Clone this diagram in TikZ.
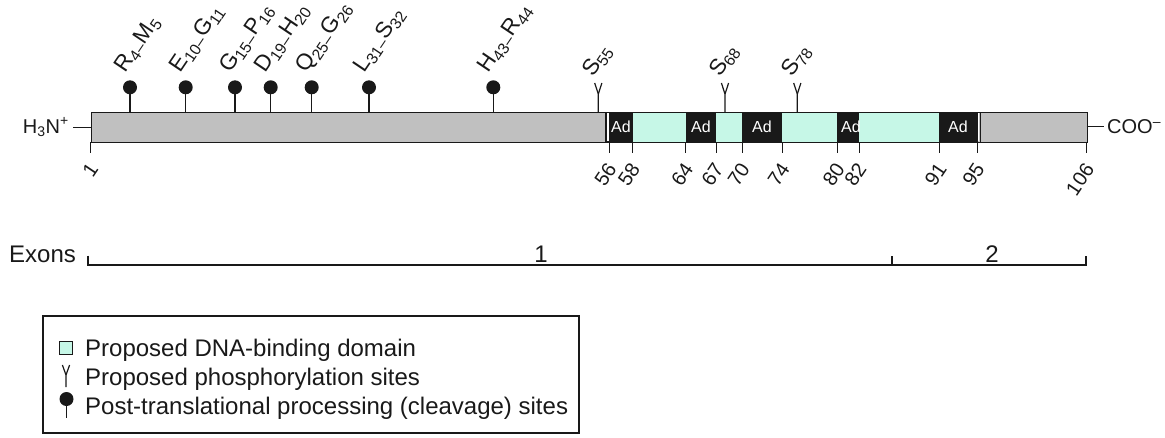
\documentclass[tikz,border=0pt]{standalone}
\usepackage{fontspec}
\setmainfont{Liberation Sans}
\definecolor{bargray}{RGB}{192,192,192}
\definecolor{mint}{RGB}{198,247,231}
\definecolor{ink}{RGB}{25,25,25}
\tikzset{
  barline/.style={draw=ink, line width=1.3pt},
  stem/.style={draw=ink, line width=1.2pt},
  pinhead/.style={circle, fill=ink, inner sep=0pt, minimum size=14pt},
  sitelab/.style={rotate=56, anchor=base west, inner sep=0pt, text=ink, font=\fontsize{22.5}{22.5}\selectfont},
  numlab/.style={rotate=56, anchor=east, inner sep=0.5pt, text=ink, font=\fontsize{20}{20}\selectfont},
  adlab/.style={text=white, inner sep=0pt, font=\fontsize{16}{16}\selectfont},
  tick/.style={draw=ink, line width=1pt},
  bigtext/.style={text=ink, inner sep=0pt, font=\fontsize{24}{24}\selectfont},
  endtext/.style={text=ink, inner sep=0pt, font=\fontsize{20}{20}\selectfont},
}
\newcommand{\dsh}{\textsubscript{–}}
\begin{document}
\begin{tikzpicture}[x=1pt,y=-1pt]
\useasboundingbox (0,0) rectangle (1165,437);
% ---------- bar segments
\fill[bargray] (90.7,112) rectangle (606,142);
\fill[ink] (606,112) rectangle (632.5,142);
\fill[mint] (632.5,112) rectangle (685.7,142);
\fill[ink] (685.7,112) rectangle (716,142);
\fill[mint] (716,112) rectangle (742.3,142);
\fill[ink] (742.3,112) rectangle (782.3,142);
\fill[mint] (782.3,112) rectangle (837.3,142);
\fill[ink] (837.3,112) rectangle (859,142);
\fill[mint] (859,112) rectangle (939.3,142);
\fill[ink] (939.3,112) rectangle (977.5,142);
\fill[bargray] (977.5,112) rectangle (1086.7,142);
\draw[white, line width=1.2pt] (608,113) -- (608,141);
\draw[white, line width=1.2pt] (978.7,113) -- (978.7,141);
\draw[ink, line width=0.8pt] (605.5,112) -- (605.5,142);
\draw[ink, line width=0.8pt] (980.3,112) -- (980.3,142);
% Ad labels (clipped to their segments)
\begin{scope}\clip (606,112) rectangle (632.5,142); \node[adlab] (ad1) at (621,127) {Ad};\end{scope}
\begin{scope}\clip (685.7,112) rectangle (716,142); \node[adlab] (ad2) at (701,127) {Ad};\end{scope}
\begin{scope}\clip (742.3,112) rectangle (782.3,142); \node[adlab] (ad3) at (762,127) {Ad};\end{scope}
\begin{scope}\clip (837.3,112) rectangle (859,142); \node[adlab] (ad4) at (851,127) {Ad};\end{scope}
\begin{scope}\clip (939.3,112) rectangle (977.5,142); \node[adlab] (ad5) at (958,127) {Ad};\end{scope}
\node[barline, minimum width=996pt, minimum height=30pt, inner sep=0pt, anchor=north west] (bar) at (90.7,112) {};
% ---------- termini
\node[endtext, anchor=east] (nterm) at (69,127) {H\textsubscript{3}N\textsuperscript{+}};
\coordinate (nj) at (90.7,127.5);
\draw[stem] (73,127.5) -- (nj);
\node[endtext, anchor=west] (cterm) at (1107,127) {COO\textsuperscript{–}};
\coordinate (cj) at (1086.7,126.5);
\draw[stem] (cj) -- (1103.5,126.5);
% ---------- cleavage pins
\foreach \x/\lab [count=\i] in {130/{R\textsubscript{4}\dsh M\textsubscript{5}},
  185.7/{E\textsubscript{10}\dsh G\textsubscript{11}},
  235/{G\textsubscript{15}\dsh P\textsubscript{16}},
  270.7/{D\textsubscript{19}\dsh H\textsubscript{20}},
  311.7/{Q\textsubscript{25}\dsh G\textsubscript{26}},
  369/{L\textsubscript{31}\dsh S\textsubscript{32}},
  493.3/{H\textsubscript{43}\dsh R\textsubscript{44}}}{
  \node[pinhead] (pin\i) at (\x,87.3) {};
  \draw[stem] (pin\i.center) -- (\x,112);
  \node[sitelab] (pinlab\i) at (\x-5,74) {\lab};
}
% ---------- phosphorylation sites
\foreach \x/\lab [count=\i] in {598.3/55, 725/68, 797.3/78}{
  \coordinate (ph\i) at (\x,94);
  \draw[stem] (\x,112) -- (ph\i) -- ++(-3.6,-11);
  \draw[stem] (ph\i) -- ++(3.6,-11);
  \node[sitelab] (phlab\i) at (\x-5,78) {S\textsubscript{\lab}};
}
% ---------- residue ticks
\foreach \x/\n in {90.7/1, 609/56, 632.5/58, 685.7/64, 716/67, 742.3/70, 782.3/74, 837.3/80, 859/82, 939.3/91, 977/95, 1086.7/106}{
  \draw[tick] (\x,142) -- (\x,152.5);
  \node[numlab] (num\n) at (\x+3,165) {\n};
}
% ---------- exons
\node[bigtext, anchor=base west] (exons) at (9,262) {Exons};
\coordinate (e0) at (88,265);
\coordinate (e1) at (892,265);
\coordinate (e2) at (1086,265);
\draw[tick, line width=1.1pt] (88,255.5) -- (e0) -- (e1) -- (e2) -- (1086,255.5);
\draw[tick, line width=1.1pt] (e1) -- (892,255.5);
\node[bigtext, anchor=base] (ex1) at (541,262) {1};
\node[bigtext, anchor=base] (ex2) at (992,262) {2};
% ---------- legend
\draw[ink, line width=1.1pt] (43,316) rectangle (579,433);
\node[draw=ink, fill=mint, line width=0.9pt, minimum size=12.5pt, inner sep=0pt] (lsq) at (66,348) {};
\node[bigtext, anchor=base west] (lt1) at (85,356) {Proposed DNA-binding domain};
\coordinate (ly) at (66,375);
\draw[stem] (66,387) -- (ly) -- ++(-3.6,-10);
\draw[stem] (ly) -- ++(3.6,-10);
\node[bigtext, anchor=base west] (lt2) at (85,385) {Proposed phosphorylation sites};
\node[pinhead] (lpin) at (66.5,399) {};
\draw[stem] (lpin.center) -- (66.5,418);
\node[bigtext, anchor=base west] (lt3) at (85,414) {Post-translational processing (cleavage) sites};
\end{tikzpicture}
\end{document}
